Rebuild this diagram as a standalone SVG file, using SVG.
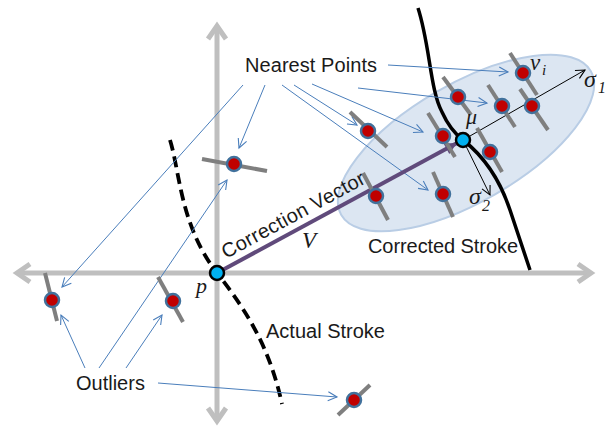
<svg xmlns="http://www.w3.org/2000/svg" width="613" height="426" viewBox="0 0 613 426">
<defs>
<marker id="axArrow" markerUnits="userSpaceOnUse" markerWidth="30" markerHeight="30" viewBox="-20 -15 30 30" refX="0" refY="0" orient="auto-start-reverse">
<path d="M-13,-9 L0,0 L-13,9" fill="none" stroke="#bfbfbf" stroke-width="5" stroke-linejoin="miter"/>
</marker>
<marker id="blueArrow" markerUnits="userSpaceOnUse" markerWidth="20" markerHeight="20" viewBox="-12 -10 20 20" refX="0" refY="0" orient="auto">
<path d="M-9,-4.5 L0,0 L-9,4.5" fill="none" stroke="#4a7ebb" stroke-width="1.1"/>
</marker>
<marker id="blackArrow" markerUnits="userSpaceOnUse" markerWidth="20" markerHeight="20" viewBox="-12 -10 20 20" refX="0" refY="0" orient="auto">
<path d="M-9,-4.5 L0,0 L-9,4.5" fill="none" stroke="#000" stroke-width="1.1"/>
</marker>
<marker id="purpleArrow" markerUnits="userSpaceOnUse" markerWidth="24" markerHeight="24" viewBox="-14 -12 24 24" refX="0" refY="0" orient="auto">
<path d="M-12,-6 L0,0 L-12,6 Z" fill="#604a7b"/>
</marker>
</defs>
<style>
.axis{stroke:#bfbfbf;stroke-width:5;fill:none}
.tick{stroke:#7f7f7f;stroke-width:4;stroke-linecap:butt}
.dot{fill:#c00000;stroke:#41719c;stroke-width:2.5}
.center{fill:#00b0f0;stroke:#000;stroke-width:2.5}
.conn{stroke:#4a7ebb;stroke-width:1;fill:none;marker-end:url(#blueArrow)}
.lbl{font-family:"Liberation Sans",Arial,sans-serif;font-size:20px;fill:#1a1a1a}
.math{font-family:"Liberation Serif","Times New Roman",serif;font-style:italic;fill:#1a1a1a}
</style>
<rect width="613" height="426" fill="#fff"/>
<g id="axes">
<line class="axis" x1="17" y1="273" x2="591" y2="273" marker-start="url(#axArrow)" marker-end="url(#axArrow)"/>
<line class="axis" x1="217" y1="26" x2="217" y2="421" marker-start="url(#axArrow)" marker-end="url(#axArrow)"/>
</g>
<g id="ellipse">
<ellipse cx="466" cy="143" rx="144" ry="59" transform="rotate(-30 466 143)" fill="#dce6f2" stroke="#b9cde5" stroke-width="2"/>
</g>
<g id="actual-stroke">
<path d="M170,140 C180,172 180,225 217,273 C250,315 270,350 282,404" fill="none" stroke="#000" stroke-width="3.8" stroke-dasharray="11,6"/>
</g>
<g id="corrected-stroke">
<path d="M418,8 C430,45 430,90 442,112 Q450,130 463,140 Q495,165 510,210 Q520,240 530,270" fill="none" stroke="#000" stroke-width="3.5"/>
</g>
<g id="connectors">
<line class="conn" x1="243" y1="85" x2="62" y2="287"/>
<line class="conn" x1="265" y1="85" x2="239" y2="148"/>
<line class="conn" x1="282" y1="85" x2="428" y2="190"/>
<line class="conn" x1="294" y1="85" x2="357" y2="125"/>
<line class="conn" x1="312" y1="84" x2="423" y2="132"/>
<line class="conn" x1="358" y1="88" x2="487" y2="103"/>
<line class="conn" x1="388" y1="65" x2="508" y2="72"/>
<line class="conn" x1="85" y1="368" x2="61" y2="315"/>
<line class="conn" x1="99" y1="368" x2="227" y2="180"/>
<line class="conn" x1="126" y1="368" x2="162" y2="315"/>
<line class="conn" x1="158" y1="383" x2="337" y2="397"/>
<line x1="463" y1="140" x2="585" y2="70" stroke="#000" stroke-width="1" marker-end="url(#blackArrow)"/>
<line x1="464" y1="142" x2="490" y2="195" stroke="#000" stroke-width="1" marker-end="url(#blackArrow)"/>
<line x1="217" y1="273" x2="457" y2="143" stroke="#604a7b" stroke-width="4" marker-end="url(#purpleArrow)"/>
</g>
<g id="nearest-1"><line class="tick" x1="202" y1="159" x2="267" y2="171"/><circle class="dot" cx="234" cy="164" r="7"/></g>
<g id="nearest-2"><line class="tick" x1="350" y1="112" x2="387" y2="147"/><circle class="dot" cx="368" cy="131" r="7"/></g>
<g id="nearest-3"><line class="tick" x1="428" y1="113" x2="455" y2="157"/><circle class="dot" cx="443" cy="136" r="7"/></g>
<g id="nearest-4"><line class="tick" x1="443" y1="77" x2="471" y2="115"/><circle class="dot" cx="458" cy="97" r="7"/></g>
<g id="nearest-5"><line class="tick" x1="488" y1="85" x2="515" y2="127"/><circle class="dot" cx="502" cy="106" r="7"/></g>
<g id="nearest-6"><line class="tick" x1="520" y1="89" x2="548" y2="130"/><circle class="dot" cx="532" cy="106" r="7"/></g>
<g id="nearest-7"><line class="tick" x1="510" y1="53" x2="537" y2="95"/><circle class="dot" cx="523" cy="73" r="7"/></g>
<g id="nearest-8"><line class="tick" x1="477" y1="128" x2="502" y2="172"/><circle class="dot" cx="490" cy="152" r="7"/></g>
<g id="nearest-9"><line class="tick" x1="363" y1="173" x2="388" y2="220"/><circle class="dot" cx="376" cy="196" r="7"/></g>
<g id="nearest-10"><line class="tick" x1="433" y1="172" x2="453" y2="217"/><circle class="dot" cx="443" cy="194" r="7"/></g>
<g id="outlier-1"><line class="tick" x1="45" y1="273" x2="57" y2="321"/><circle class="dot" cx="52" cy="300" r="7"/></g>
<g id="outlier-2"><line class="tick" x1="158" y1="277" x2="183" y2="322"/><circle class="dot" cx="173" cy="301" r="7"/></g>
<g id="outlier-3"><line class="tick" x1="338" y1="415" x2="370" y2="385"/><circle class="dot" cx="354" cy="400" r="7"/></g>
<g id="point-p"><circle class="center" cx="217" cy="273" r="7"/><text class="math" x="196" y="293" font-size="22">p</text></g>
<g id="point-mu"><circle class="center" cx="463" cy="140" r="7"/><text class="math" x="466" y="124" font-size="22">μ</text></g>
<g id="labels">
<text class="lbl" x="245" y="72" textLength="132" lengthAdjust="spacing">Nearest Points</text>
<text class="lbl" x="76" y="390">Outliers</text>
<text class="lbl" x="266" y="338">Actual Stroke</text>
<text class="lbl" x="368" y="253" textLength="150" lengthAdjust="spacing">Corrected Stroke</text>
<text class="lbl" x="226" y="259" transform="rotate(-28.4 226 259)" textLength="160" lengthAdjust="spacing">Correction Vector</text>
<text class="math" x="302" y="248" font-size="23">V</text>
<text class="math" x="530" y="70" font-size="23">v</text>
<text class="math" x="542" y="75" font-size="15">i</text>
<text class="math" x="584" y="87" font-size="24">σ</text>
<text class="math" x="598" y="93" font-size="16">1</text>
<text class="math" x="469" y="204" font-size="24">σ</text>
<text class="math" x="482" y="211" font-size="16">2</text>
</g>
</svg>
